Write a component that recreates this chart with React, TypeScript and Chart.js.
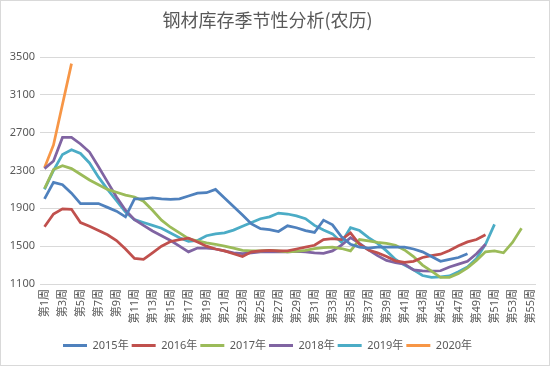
import React, { useEffect, useRef } from 'react';
import { Chart, registerables } from 'chart.js';

Chart.register(...registerables);

const titleText = '钢材库存季节性分析(农历)';

const weeks = [
  '第1周', '第2周', '第3周', '第4周', '第5周', '第6周', '第7周', '第8周', '第9周', '第10周',
  '第11周', '第12周', '第13周', '第14周', '第15周', '第16周', '第17周', '第18周', '第19周', '第20周',
  '第21周', '第22周', '第23周', '第24周', '第25周', '第26周', '第27周', '第28周', '第29周', '第30周',
  '第31周', '第32周', '第33周', '第34周', '第35周', '第36周', '第37周', '第38周', '第39周', '第40周',
  '第41周', '第42周', '第43周', '第44周', '第45周', '第46周', '第47周', '第48周', '第49周', '第50周',
  '第51周', '第52周', '第53周', '第54周', '第55周',
];

const seriesNames = ['2015年', '2016年', '2017年', '2018年', '2019年', '2020年'];

const y2015 = [
  2000, 2175, 2150, 2060, 1950, 1950, 1950, 1910, 1870, 1810,
  2000, 2000, 2010, 2000, 1995, 2000, 2030, 2060, 2065, 2100,
  2010, 1920, 1830, 1735, 1685, 1675, 1655, 1715, 1695, 1665,
  1645, 1775, 1725, 1600, 1520, 1490, 1480, 1490, 1490, 1490,
  1490, 1470, 1440, 1390, 1340, 1360, 1380, 1420,
];

const y2016 = [
  1705, 1840, 1895, 1890, 1750, 1710, 1665, 1620, 1560, 1470,
  1370, 1360, 1430, 1500, 1550, 1570, 1585, 1545, 1500, 1470,
  1450, 1420, 1390, 1440, 1450, 1455, 1450, 1450, 1470, 1490,
  1510, 1570, 1580, 1570, 1640, 1520, 1460, 1430, 1390, 1345,
  1330, 1340, 1380, 1400, 1415, 1455, 1505, 1545, 1570, 1620,
];

const y2017 = [
  2110, 2310, 2350, 2320, 2260, 2200, 2150, 2100, 2070, 2040,
  2020, 1975, 1880, 1775, 1700, 1640, 1580, 1555, 1535, 1520,
  1500, 1480, 1455, 1450, 1450, 1455, 1450, 1440, 1445, 1455,
  1475, 1485, 1490, 1475, 1450, 1570, 1555, 1540, 1530, 1510,
  1460, 1390, 1300, 1235, 1170, 1170, 1210, 1270, 1350, 1440,
  1450, 1430, 1540, 1690,
];

const y2018 = [
  2320, 2400, 2650, 2650, 2580, 2495, 2340, 2180, 2020, 1880,
  1780, 1720, 1660, 1610, 1560, 1500, 1440, 1480, 1480, 1470,
  1450, 1430, 1420, 1430, 1440, 1440, 1440, 1440, 1445, 1440,
  1430, 1425, 1450, 1510, 1590, 1530, 1460, 1400, 1350, 1325,
  1310, 1250, 1240, 1235, 1240, 1280, 1310, 1340, 1420, 1520,
];

const y2019 = [
  2100, 2300, 2470, 2520, 2480, 2380, 2230, 2100, 1980, 1860,
  1780, 1750, 1720, 1690, 1640, 1590, 1550, 1560, 1610, 1630,
  1640, 1670, 1710, 1750, 1790, 1810, 1850, 1840, 1820, 1790,
  1720, 1670, 1630, 1540, 1695, 1665, 1590, 1530, 1450, 1360,
  1300, 1250, 1190, 1170, 1175, 1185, 1230, 1280, 1370, 1520,
  1730,
];

const y2020 = [2330, 2570, 3000, 3430];

const colors = ['#4F81BD', '#C0504D', '#9BBB59', '#8064A2', '#4BACC6', '#F79646'];

const yMin = 1100;
const yMax = 3500;
const yStep = 400;

const FONT = "'Noto Sans', 'Noto Sans CJK SC', sans-serif";
const CJK_FONT = "'Noto Sans CJK SC', 'Noto Sans', sans-serif";
const TEXT = '#595959';
const GRID = '#D9D9D9';

const frame = {
  id: 'frame',
  afterDraw(chart: any) {
    const { ctx, width, height } = chart;
    ctx.save();
    ctx.strokeStyle = GRID;
    ctx.lineWidth = 1;
    ctx.strokeRect(0.5, 0.5, width - 1, height - 1);
    ctx.restore();
  },
};

export default function App() {
  const ref = useRef<HTMLCanvasElement>(null);

  useEffect(() => {
    if (!ref.current) return;
    const all = [y2015, y2016, y2017, y2018, y2019, y2020];
    const datasets = all.map((d, i) => ({
      label: seriesNames[i],
      data: d,
      borderColor: colors[i],
      backgroundColor: colors[i],
      borderWidth: 2.75,
      pointRadius: 0,
      pointHoverRadius: 0,
      tension: 0,
      fill: false,
    }));

    const chart = new Chart(ref.current, {
      type: 'line',
      data: { labels: weeks, datasets },
      options: {
        responsive: false,
        animation: false,
        layout: { padding: { left: 0, right: 15, top: 0, bottom: 5 } },
        plugins: {
          title: {
            display: true,
            text: titleText,
            color: TEXT,
            font: { family: CJK_FONT, size: 18, weight: 'normal', lineHeight: 1.2 },
            padding: { top: 9, bottom: 26.4 },
          },
          legend: {
            position: 'bottom',
            labels: {
              boxWidth: 24,
              boxHeight: 3,
              padding: 3,
              color: TEXT,
              font: { family: FONT, size: 11 },
              generateLabels: (c: any) =>
                (Chart as any).defaults.plugins.legend.labels
                  .generateLabels(c)
                  .map((l: any) => ({ ...l, lineWidth: 0 })),
            },
          },
          tooltip: { enabled: false },
        },
        scales: {
          x: {
            offset: true,
            grid: { display: false, drawTicks: false },
            border: { display: true, color: GRID },
            ticks: {
              autoSkip: false,
              maxRotation: 90,
              minRotation: 90,
              padding: 5,
              color: TEXT,
              font: { family: FONT, size: 11 },
              callback: (_v: any, i: number) => (i % 2 === 0 ? weeks[i] : ''),
            },
            afterFit: (s: any) => {
              s.height = 53;
            },
          },
          y: {
            min: yMin,
            max: yMax,
            grid: { color: GRID, drawTicks: false },
            border: { display: false },
            ticks: {
              stepSize: yStep,
              padding: 5,
              color: TEXT,
              font: { family: FONT, size: 11 },
              callback: (v: any) => String(v),
            },
            afterFit: (s: any) => {
              s.width = 40;
            },
          },
        },
      } as any,
      plugins: [frame],
    });
    return () => chart.destroy();
  }, []);

  return (
    <canvas
      ref={ref}
      width={550}
      height={366}
      style={{ position: 'absolute', left: 0, top: 0, width: 550, height: 366 }}
    />
  );
}
